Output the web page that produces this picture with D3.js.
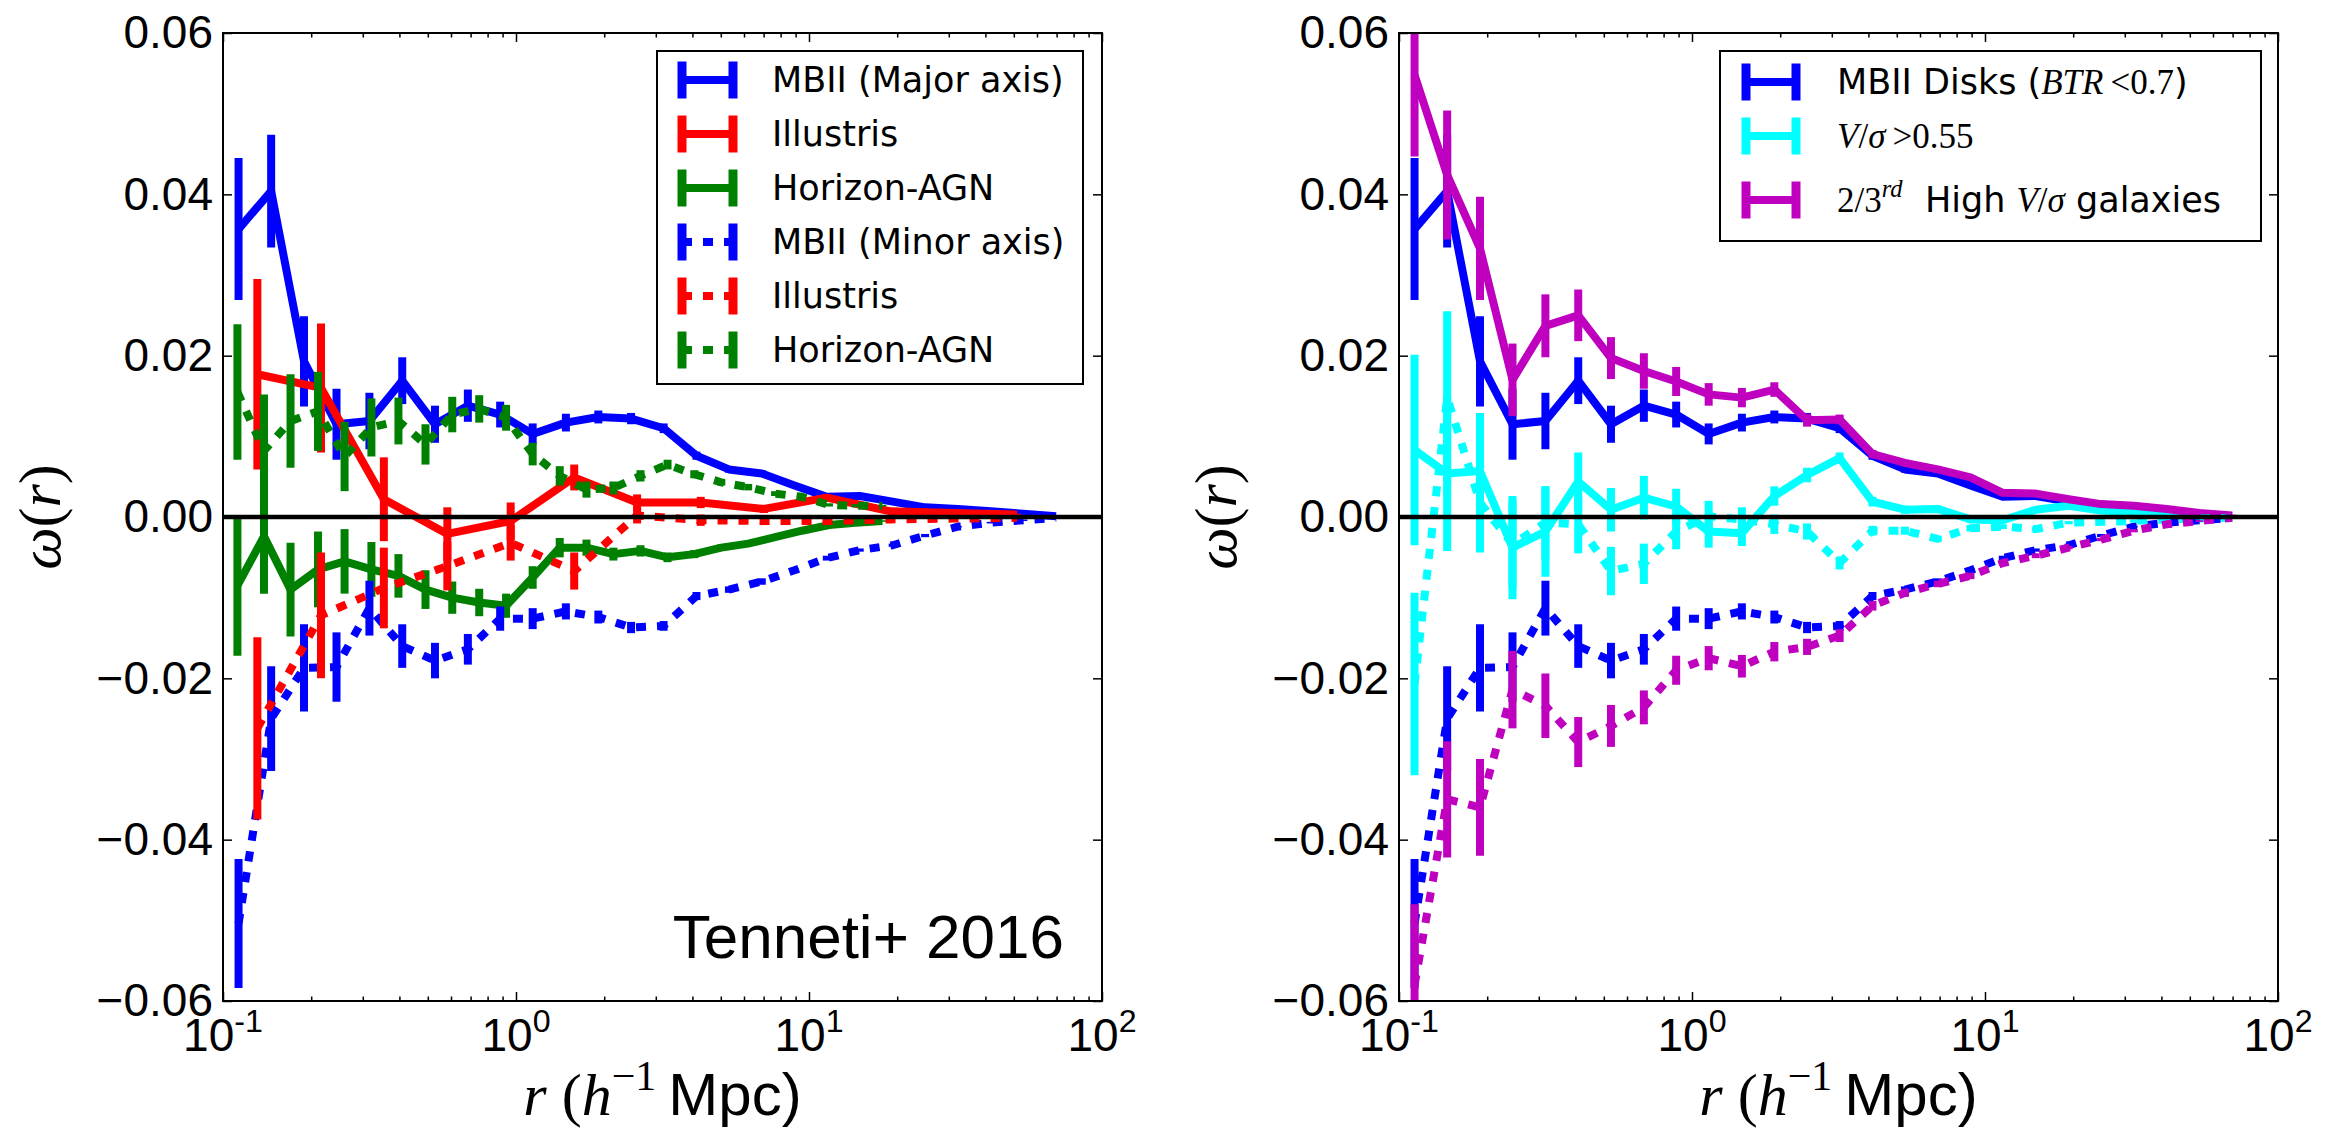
<!DOCTYPE html>
<html>
<head>
<meta charset="utf-8">
<script src="https://cdn.jsdelivr.net/npm/d3@7"></script>
<style>
  body { margin: 0; background: #fff; }
</style>
</head>
<body>
<div id="chart"></div>
<script>
// separation bins (h^-1 Mpc)
var rMBII = [0.113, 0.146, 0.189, 0.244, 0.316, 0.409, 0.529, 0.685, 0.883, 1.14, 1.48, 1.91, 2.47,
             3.19, 4.13, 5.33, 6.90, 8.92, 11.5, 14.9, 19.3, 24.9, 32.2, 41.7, 53.9, 69.7];
var rIllustris = [0.131, 0.216, 0.354, 0.583, 0.959, 1.58, 2.59, 4.27, 7.02, 11.5, 19.0, 31.2, 51.3];
var rHorizon = [0.112, 0.138, 0.170, 0.211, 0.260, 0.321, 0.397, 0.491, 0.606, 0.749, 0.925, 1.14, 1.41,
                1.74, 2.15, 2.66, 3.29, 4.06, 5.02, 6.20, 7.66, 9.46, 11.7, 14.4, 17.8];

// left panel: major axis
var wMBIImajor = [0.0357, 0.0404, 0.0193, 0.0115, 0.0119, 0.0169, 0.0115, 0.0138, 0.0127, 0.0103, 0.0117, 0.0124, 0.0122,
                  0.0110, 0.0076, 0.0059, 0.0054, 0.0039, 0.0025, 0.0026, 0.0019, 0.0012, 0.0010, 0.0007, 0.0004, 0.0001];
var eMBIImajor = [0.0088, 0.0070, 0.0056, 0.0044, 0.0035, 0.0029, 0.0023, 0.0020, 0.0016, 0.0013, 0.0011, 0.0008, 0.0007,
                  0.0006, 0.0005, 0.0004, 0.0004, 0.0003, 0.0003, 0.0002, 0.0002, 0.0002, 0.0001, 0.0001, 0.0001, 0.0001];
var wIllMajor = [0.0177, 0.0160, 0.0022, -0.0021, -0.0005, 0.0049, 0.0018, 0.0018, 0.0010, 0.0024, 0.0007, 0.0005, 0.0003];
var eIllMajor = [0.0118, 0.0080, 0.0052, 0.0033, 0.0023, 0.0016, 0.0010, 0.0007, 0.0005, 0.0004, 0.0003, 0.0002, 0.0001];
var wHorMajor = [-0.0085, -0.0024, -0.0090, -0.0065, -0.0055, -0.0065, -0.0073, -0.0090, -0.0100, -0.0106, -0.0110, -0.0075, -0.0038,
                 -0.0038, -0.0046, -0.0042, -0.0050, -0.0046, -0.0038, -0.0033, -0.0025, -0.0017, -0.0010, -0.0007, -0.0005];
var eHorMajor = [0.0087, 0.0071, 0.0058, 0.0047, 0.0040, 0.0034, 0.0027, 0.0024, 0.0020, 0.0017, 0.0015, 0.0014, 0.0012,
                 0.0010, 0.0008, 0.0007, 0.0006, 0.0005, 0.0004, 0.0003, 0.0003, 0.0002, 0.0002, 0.0001, 0.0001];

// left panel: minor axis
var wMBIIminor = [-0.0504, -0.0250, -0.0187, -0.0186, -0.0113, -0.0160, -0.0178, -0.0164, -0.0126, -0.0126, -0.0117, -0.0124, -0.0137,
                  -0.0135, -0.0098, -0.0090, -0.0080, -0.0066, -0.0051, -0.0041, -0.0035, -0.0023, -0.0012, -0.0007, -0.0004, -0.0001];
var eMBIIminor = [0.0080, 0.0065, 0.0054, 0.0043, 0.0034, 0.0027, 0.0022, 0.0019, 0.0015, 0.0013, 0.0010, 0.0008, 0.0007,
                  0.0006, 0.0005, 0.0004, 0.0004, 0.0003, 0.0003, 0.0002, 0.0002, 0.0002, 0.0001, 0.0001, 0.0001, 0.0001];
var wIllMinor = [-0.0262, -0.0122, -0.0088, -0.0061, -0.0032, -0.0067, 0.0002, -0.0004, -0.0005, -0.0005, -0.0003, -0.0002, -0.0001];
var eIllMinor = [0.0113, 0.0078, 0.0050, 0.0030, 0.0022, 0.0023, 0.0010, 0.0007, 0.0005, 0.0004, 0.0003, 0.0002, 0.0001];
var wHorMinor = [0.0155, 0.0082, 0.0119, 0.0131, 0.0075, 0.0111, 0.0119, 0.0090, 0.0127, 0.0134, 0.0123, 0.0078, 0.0051,
                 0.0034, 0.0036, 0.0051, 0.0065, 0.0053, 0.0043, 0.0037, 0.0029, 0.0025, 0.0015, 0.0014, 0.0014];
var eHorMinor = [0.0084, 0.0070, 0.0058, 0.0049, 0.0043, 0.0036, 0.0029, 0.0025, 0.0022, 0.0017, 0.0016, 0.0014, 0.0012,
                 0.0010, 0.0008, 0.0007, 0.0006, 0.0005, 0.0004, 0.0004, 0.0003, 0.0003, 0.0002, 0.0002, 0.0001];

// right panel (MBII disks use the same measurement as the major/minor MBII curves)
var wVsig = [0.0083, 0.0054, 0.0057, -0.0038, -0.0018, 0.0044, 0.0009, 0.0024, 0.0013, -0.0018, -0.0020, 0.0026, 0.0052,
             0.0073, 0.0019, 0.0009, 0.0010, -0.0003, -0.0004, 0.0009, 0.0014, 0.0008, 0.0006, 0.0004, 0.0002, 0.0001];
var eVsig = [0.0118, 0.0096, 0.0072, 0.0064, 0.0056, 0.0036, 0.0027, 0.0027, 0.0022, 0.0020, 0.0016, 0.0012, 0.0009,
             0.0007, 0.0006, 0.0005, 0.0004, 0.0004, 0.0003, 0.0003, 0.0002, 0.0002, 0.0002, 0.0001, 0.0001, 0.0001];
var wVsigMinor = [-0.0207, 0.0148, 0.0018, -0.0034, -0.0007, -0.0009, -0.0067, -0.0058, -0.0018, 0.0001, -0.0003, -0.0009, -0.0018,
                  -0.0057, -0.0017, -0.0017, -0.0027, -0.0014, -0.0012, -0.0015, -0.0007, -0.0006, -0.0005, -0.0003, -0.0002, -0.0001];
var eVsigMinor = [0.0113, 0.0107, 0.0062, 0.0055, 0.0045, 0.0036, 0.0030, 0.0025, 0.0022, 0.0019, 0.0015, 0.0012, 0.0010,
                  0.0008, 0.0006, 0.0005, 0.0004, 0.0004, 0.0003, 0.0003, 0.0002, 0.0002, 0.0002, 0.0001, 0.0001, 0.0001];
var wHigh = [0.0548, 0.0424, 0.0333, 0.0170, 0.0237, 0.0250, 0.0197, 0.0181, 0.0168, 0.0152, 0.0148, 0.0158, 0.0120,
             0.0121, 0.0078, 0.0067, 0.0059, 0.0049, 0.0030, 0.0029, 0.0022, 0.0016, 0.0014, 0.0010, 0.0005, 0.0002];
var eHigh = [0.0101, 0.0080, 0.0064, 0.0045, 0.0039, 0.0032, 0.0026, 0.0022, 0.0018, 0.0014, 0.0012, 0.0009, 0.0008,
             0.0006, 0.0005, 0.0004, 0.0004, 0.0003, 0.0003, 0.0002, 0.0002, 0.0002, 0.0001, 0.0001, 0.0001, 0.0001];
var wHighMinor = [-0.0580, -0.0350, -0.0360, -0.0214, -0.0234, -0.0279, -0.0259, -0.0236, -0.0190, -0.0175, -0.0185, -0.0167, -0.0161,
                  -0.0147, -0.0110, -0.0094, -0.0083, -0.0073, -0.0057, -0.0048, -0.0038, -0.0028, -0.0017, -0.0009, -0.0005, -0.0001];
var eHighMinor = [0.0100, 0.0072, 0.0060, 0.0048, 0.0040, 0.0031, 0.0026, 0.0021, 0.0018, 0.0015, 0.0014, 0.0012, 0.0010,
                  0.0008, 0.0006, 0.0005, 0.0004, 0.0004, 0.0003, 0.0003, 0.0002, 0.0002, 0.0002, 0.0001, 0.0001, 0.0001];

// ticks
var xTickVals = [0.1, 1, 10, 100];
var xTickExp = ["-1", "0", "1", "2"];
var yTickVals = [-0.06, -0.04, -0.02, 0, 0.02, 0.04, 0.06];
var yTickText = ["\u22120.06", "\u22120.04", "\u22120.02", "0.00", "0.02", "0.04", "0.06"];

// legend labels, as [text, kind] pieces (s = sans, i = math italic, r = math roman, ^ = superscript)
var leftLabels = [
  [["MBII (Major axis)", "s"]],
  [["Illustris", "s"]],
  [["Horizon-AGN", "s"]],
  [["MBII (Minor axis)", "s"]],
  [["Illustris", "s"]],
  [["Horizon-AGN", "s"]]
];
var rightLabels = [
  [["MBII Disks (", "s"], ["BTR", "i"], ["\u2009<0.7", "r"], [")", "s"]],
  [["V", "i"], ["/", "r"], ["\u03c3", "i"], ["\u2009>0.55", "r"]],
  [["2/3", "r"], ["rd", "^i"], ["\u00a0\u00a0High ", "s"], ["V", "i"], ["/", "r"], ["\u03c3", "i"], [" galaxies", "s"]]
];

var svgWidth = 2337;
var svgHeight = 1131;

var svg = d3.select("#chart")
  .append("svg")
  .attr("width", svgWidth)
  .attr("height", svgHeight)
  .style("background", "#fff");

var SANS = "'Liberation Sans', Arial, sans-serif";
var LEG = "'DejaVu Sans', sans-serif";
var SERIF = "'Liberation Serif', 'DejaVu Serif', serif";

var panels = [
  {
    id: "L", left: 223, right: 1102, top: 33, bottom: 1001,
    series: [
      {r: rMBII, w: wMBIImajor, e: eMBIImajor, color: "#0000ff", dotted: false},
      {r: rIllustris, w: wIllMajor, e: eIllMajor, color: "#ff0000", dotted: false},
      {r: rHorizon, w: wHorMajor, e: eHorMajor, color: "#008000", dotted: false},
      {r: rMBII, w: wMBIIminor, e: eMBIIminor, color: "#0000ff", dotted: true},
      {r: rIllustris, w: wIllMinor, e: eIllMinor, color: "#ff0000", dotted: true},
      {r: rHorizon, w: wHorMinor, e: eHorMinor, color: "#008000", dotted: true}
    ],
    legend: {x: 657, y: 51, w: 426, h: 333, rows: [80, 134, 188, 242, 296, 350], labels: leftLabels,
             xa: 682, xb: 733, tx: 772}
  },
  {
    id: "R", left: 1399, right: 2278, top: 33, bottom: 1001,
    series: [
      {r: rMBII, w: wMBIImajor, e: eMBIImajor, color: "#0000ff", dotted: false},
      {r: rMBII, w: wVsig, e: eVsig, color: "#00ffff", dotted: false},
      {r: rMBII, w: wHigh, e: eHigh, color: "#bf00bf", dotted: false},
      {r: rMBII, w: wMBIIminor, e: eMBIIminor, color: "#0000ff", dotted: true},
      {r: rMBII, w: wVsigMinor, e: eVsigMinor, color: "#00ffff", dotted: true},
      {r: rMBII, w: wHighMinor, e: eHighMinor, color: "#bf00bf", dotted: true}
    ],
    legend: {x: 1720, y: 51, w: 541, h: 190, rows: [82, 136, 200], labels: rightLabels,
             xa: 1746, xb: 1796, tx: 1837}
  }
];

// write a label made of pieces into a text element
function rich(textSel, parts, size, baseFont) {
  var raised = false;
  parts.forEach(function(p) {
    var kind = p[1];
    var sup = kind.charAt(0) === "^";
    if (sup) kind = kind.slice(1);
    var t = textSel.append("tspan").text(p[0]);
    t.style("font-family", kind === "s" ? baseFont : SERIF)
      .style("font-style", kind === "i" ? "italic" : "normal")
      .style("font-size", (sup ? size * 0.7 : size) + "px");
    if (sup && !raised) { t.attr("dy", -size * 0.42); raised = true; }
    else if (!sup && raised) { t.attr("dy", size * 0.42); raised = false; }
  });
}

function drawPanel(p) {
  var x = d3.scaleLog().domain([0.1, 100]).range([p.left, p.right]);
  var y = d3.scaleLinear().domain([-0.06, 0.06]).range([p.bottom, p.top]);

  svg.append("clipPath").attr("id", "clip" + p.id)
    .append("rect")
    .attr("x", p.left).attr("y", p.top)
    .attr("width", p.right - p.left).attr("height", p.bottom - p.top);

  var plot = svg.append("g").attr("clip-path", "url(#clip" + p.id + ")");

  p.series.forEach(function(s) {
    var pts = s.r.map(function(r, i) { return {r: r, w: s.w[i], e: s.e[i]}; });
    var sg = plot.append("g");
    sg.append("path").datum(pts)
      .attr("d", d3.line().x(d => x(d.r)).y(d => y(d.w)))
      .attr("fill", "none")
      .attr("stroke", s.color)
      .attr("stroke-width", 8)
      .attr("stroke-linejoin", "round")
      .attr("stroke-dasharray", s.dotted ? "10,11" : null);
    sg.selectAll("line").data(pts).enter().append("line")
      .attr("x1", d => x(d.r)).attr("x2", d => x(d.r))
      .attr("y1", d => y(d.w - d.e)).attr("y2", d => y(d.w + d.e))
      .attr("stroke", s.color)
      .attr("stroke-width", 8);
  });

  // zero line
  plot.append("line")
    .attr("x1", p.left).attr("x2", p.right)
    .attr("y1", y(0)).attr("y2", y(0))
    .attr("stroke", "#000").attr("stroke-width", 4.5);

  // axes, matplotlib style: inward ticks on every side
  var minor = [];
  [0.1, 1, 10].forEach(function(dec) {
    for (var m = 2; m <= 9; m++) minor.push(dec * m);
  });

  function styleAxis(g) {
    g.select(".domain").remove();
    g.selectAll(".tick line").attr("stroke", "#000").attr("stroke-width", 1.5);
  }

  svg.append("g").attr("transform", `translate(0, ${p.bottom})`)
    .call(d3.axisBottom(x).tickValues(xTickVals).tickSize(-9).tickFormat("")).call(styleAxis);
  svg.append("g").attr("transform", `translate(0, ${p.bottom})`)
    .call(d3.axisBottom(x).tickValues(minor).tickSize(-4.5).tickFormat("")).call(styleAxis);
  svg.append("g").attr("transform", `translate(0, ${p.top})`)
    .call(d3.axisTop(x).tickValues(xTickVals).tickSize(-9).tickFormat("")).call(styleAxis);
  svg.append("g").attr("transform", `translate(0, ${p.top})`)
    .call(d3.axisTop(x).tickValues(minor).tickSize(-4.5).tickFormat("")).call(styleAxis);

  var leftAxis = svg.append("g").attr("transform", `translate(${p.left}, 0)`)
    .call(d3.axisLeft(y).tickValues(yTickVals).tickSize(-9).tickPadding(10)
      .tickFormat((d, i) => yTickText[i]))
    .call(styleAxis);
  leftAxis.attr("font-family", null).attr("font-size", null);
  leftAxis.selectAll("text")
    .style("font-family", SANS).style("font-size", "46px").attr("fill", "#000");

  svg.append("g").attr("transform", `translate(${p.right}, 0)`)
    .call(d3.axisRight(y).tickValues(yTickVals).tickSize(-9).tickFormat(""))
    .call(styleAxis);

  // x tick labels as 10^n
  xTickVals.forEach(function(v, i) {
    var t = svg.append("text")
      .attr("x", x(v)).attr("y", 1051)
      .attr("text-anchor", "middle");
    rich(t, [["10", "s"], [xTickExp[i], "^s"]], 46, SANS);
  });

  // frame
  svg.append("rect")
    .attr("x", p.left).attr("y", p.top)
    .attr("width", p.right - p.left).attr("height", p.bottom - p.top)
    .attr("fill", "none").attr("stroke", "#000").attr("stroke-width", 2);

  // axis labels
  var xl = svg.append("text")
    .attr("x", (p.left + p.right) / 2).attr("y", 1115)
    .attr("text-anchor", "middle");
  rich(xl, [["r", "i"], [" (", "r"], ["h", "i"], ["\u22121", "^r"], ["\u2009Mpc)", "s"]], 60, SANS);

  var yl = svg.append("text")
    .attr("transform", `translate(${p.left - 163}, ${(p.top + p.bottom) / 2}) rotate(-90)`)
    .attr("text-anchor", "middle");
  rich(yl, [["\u03c9", "i"], ["(", "r"], ["r", "i"], [")", "r"]], 60, SANS);

  // legend (only the entries the figure lists)
  var L = p.legend;
  svg.append("rect")
    .attr("x", L.x).attr("y", L.y).attr("width", L.w).attr("height", L.h)
    .attr("fill", "#fff").attr("stroke", "#000").attr("stroke-width", 2);
  L.labels.forEach(function(lab, i) {
    var s = p.series[i];
    var cy = L.rows[i];
    svg.append("line")
      .attr("x1", L.xa).attr("x2", L.xb).attr("y1", cy).attr("y2", cy)
      .attr("stroke", s.color).attr("stroke-width", 8)
      .attr("stroke-dasharray", s.dotted ? "10,11" : null);
    [L.xa, L.xb].forEach(function(bx) {
      svg.append("line")
        .attr("x1", bx).attr("x2", bx).attr("y1", cy - 18.5).attr("y2", cy + 18.5)
        .attr("stroke", s.color).attr("stroke-width", 9);
    });
    var t = svg.append("text").attr("x", L.tx).attr("y", cy + 12);
    rich(t, lab, 35, LEG);
  });
}

panels.forEach(drawPanel);

// annotation in the left panel
svg.append("text")
  .attr("x", 1064).attr("y", 958)
  .attr("text-anchor", "end")
  .style("font-family", SANS)
  .style("font-size", "62px")
  .text("Tenneti+ 2016");
</script>
</body>
</html>
